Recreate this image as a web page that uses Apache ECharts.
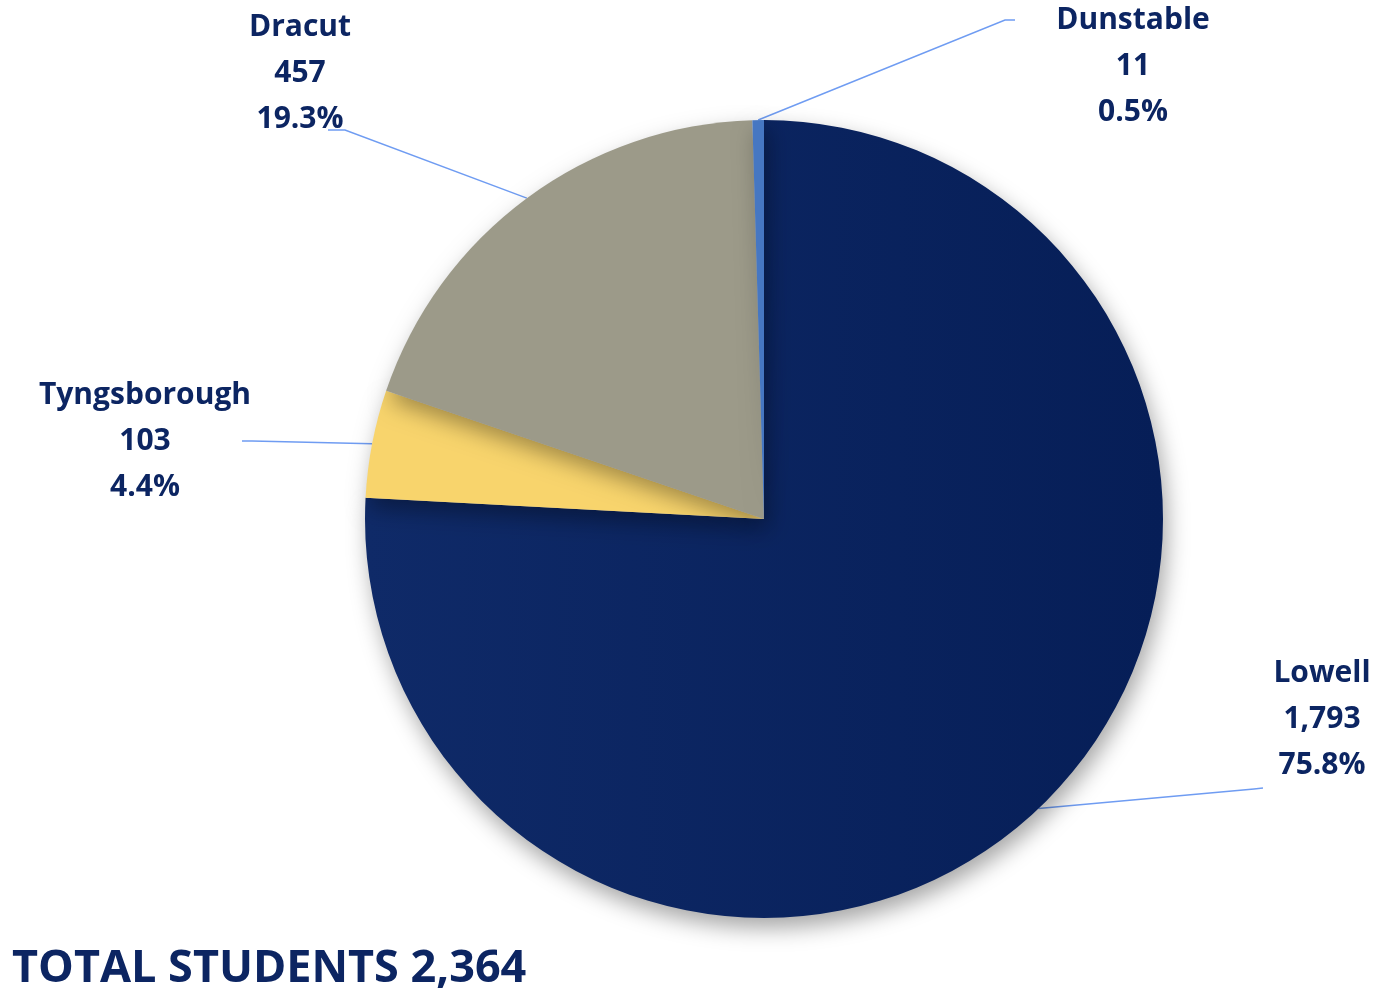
<!DOCTYPE html>
<html>
<head>
<meta charset="utf-8">
<title>Students by Town</title>
<script src="https://cdn.jsdelivr.net/npm/echarts@6/dist/echarts.min.js"></script>
<style>
  html, body { margin: 0; padding: 0; background: #ffffff; }
  #chart { width: 1384px; height: 995px; }
</style>
</head>
<body>
<div id="chart"></div>
<script>
// Students by home town
const towns = ['Lowell', 'Tyngsborough', 'Dracut', 'Dunstable'];
const students = [1793, 103, 457, 11];
const sliceColors = ['#0a2260', '#f8d46c', '#9c9a89', '#4677c2'];

const total = students.reduce((a, b) => a + b, 0);
const navy = '#0c2562';
const labelFont = '"Open Sans", Lato, sans-serif';

// Where each label block sits and how its leader line bends
const labelPlacement = {
  Lowell:       { x: 1322, y: 719, elbow: [1254, 789], end: [1263, 788] },
  Tyngsborough: { x: 145,  y: 441, elbow: [252, 441],  end: [242, 441] },
  Dracut:       { x: 300,  y: 73,  elbow: [345, 130],  end: [328, 130] },
  Dunstable:    { x: 1133, y: 66,  elbow: [1005, 20],  end: [1015, 20] }
};

// The large slice is shaded slightly darker toward its right side
function sliceFill(i) {
  if (i !== 0) return sliceColors[i];
  return new echarts.graphic.LinearGradient(0, 0, 1, 0, [
    { offset: 0, color: '#0f2a68' },
    { offset: 1, color: '#061e57' }
  ]);
}

const chart = echarts.init(document.getElementById('chart'));

chart.setOption({
  animation: false,
  backgroundColor: '#ffffff',
  title: {
    text: 'TOTAL STUDENTS ' + total.toLocaleString('en-US'),
    left: 7,
    top: 942,
    textStyle: {
      color: navy,
      fontFamily: labelFont,
      fontWeight: 'bold',
      fontSize: 45
    }
  },
  series: [{
    type: 'pie',
    center: [764, 519],
    radius: [0, 399],
    startAngle: 90,
    clockwise: true,
    avoidLabelOverlap: false,
    data: towns.map((name, i) => ({
      name: name,
      value: students[i],
      itemStyle: { color: sliceFill(i) }
    })),
    itemStyle: {
      borderWidth: 0,
      shadowBlur: 22,
      shadowOffsetX: 4,
      shadowOffsetY: 10,
      shadowColor: 'rgba(0, 0, 0, 0.35)'
    },
    label: {
      show: true,
      position: 'outside',
      color: navy,
      fontFamily: labelFont,
      fontWeight: 'bold',
      fontSize: 30,
      lineHeight: 46,
      align: 'center',
      formatter: function (p) {
        const pct = (p.value / total * 100).toFixed(1);
        return p.name + '\n' + p.value.toLocaleString('en-US') + '\n' + pct + '%';
      }
    },
    labelLine: {
      show: true,
      length: 20,
      length2: 10,
      smooth: false,
      lineStyle: { color: '#6f9cf2', width: 1.5 }
    },
    labelLayout: function (params) {
      const place = labelPlacement[towns[params.dataIndex]];
      const start = params.labelLinePoints ? params.labelLinePoints[0] : place.elbow;
      return {
        x: place.x,
        y: place.y,
        align: 'center',
        verticalAlign: 'middle',
        labelLinePoints: [start, place.elbow, place.end]
      };
    },
    emphasis: { disabled: true }
  }]
});
</script>
</body>
</html>
